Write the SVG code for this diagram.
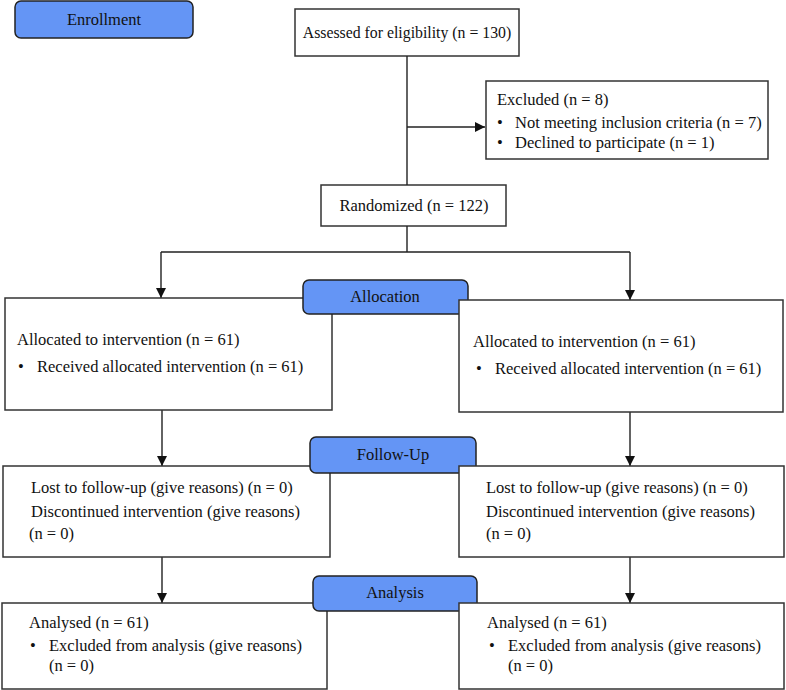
<svg xmlns="http://www.w3.org/2000/svg" width="786" height="690" viewBox="0 0 786 690">
<defs>
<marker id="ah" viewBox="0 0 10 10" refX="10" refY="5" markerWidth="10" markerHeight="10" markerUnits="userSpaceOnUse" orient="auto">
<path d="M0,0 L10,5 L0,10 Z" fill="#111"/>
</marker>
<style>
.box{fill:#fff;stroke:#333;stroke-width:1.5}
.tab{fill:#6495F5;stroke:#222;stroke-width:1.5}
.t{font-family:"Liberation Serif","Times New Roman",serif;font-size:16.5px;fill:#111}
.c{text-anchor:middle}
.ln{fill:none;stroke:#222;stroke-width:1.4}
</style>
</defs>
<rect width="786" height="690" fill="#fff"/>

<g id="enrollment"><rect class="tab" x="15" y="1" width="178" height="37" rx="6"/><text class="t c" x="104" y="25">Enrollment</text></g>

<g id="assessed"><rect class="box" x="295" y="9" width="224" height="47"/><text class="t c" x="407" y="38" style="font-size:15.8px">Assessed for eligibility (n = 130)</text></g>

<g id="excluded"><rect class="box" x="486" y="81" width="282" height="78"/>
<text class="t" x="497" y="105">Excluded (n = 8)</text>
<text class="t" x="497" y="128">•</text><text class="t" x="515" y="128">Not meeting inclusion criteria (n = 7)</text>
<text class="t" x="497" y="148">•</text><text class="t" x="515" y="148">Declined to participate (n = 1)</text></g>

<g id="randomized"><rect class="box" x="321" y="185" width="185" height="41"/><text class="t c" x="414" y="211">Randomized (n = 122)</text></g>

<g id="connectors">
<path class="ln" d="M407,56 V185"/>
<path class="ln" d="M407,127 H485" marker-end="url(#ah)"/>
<path class="ln" d="M407,226 V252 M161,252 H630"/>
<path class="ln" d="M161,252 V298" marker-end="url(#ah)"/>
<path class="ln" d="M630,252 V300" marker-end="url(#ah)"/>
<path class="ln" d="M162,410 V466" marker-end="url(#ah)"/>
<path class="ln" d="M630,412 V466" marker-end="url(#ah)"/>
<path class="ln" d="M162,557 V603" marker-end="url(#ah)"/>
<path class="ln" d="M630,557 V603" marker-end="url(#ah)"/>
</g>

<g id="alloc-left"><rect class="box" x="5" y="298" width="327" height="112"/>
<text class="t" x="17" y="345">Allocated to intervention (n = 61)</text>
<text class="t" x="18" y="372">•</text><text class="t" x="37" y="372">Received allocated intervention (n = 61)</text></g>

<g id="allocation"><rect class="tab" x="303" y="280" width="165" height="34" rx="6"/><text class="t c" x="385" y="302">Allocation</text></g>

<g id="alloc-right"><rect class="box" x="459" y="300" width="324" height="112"/>
<text class="t" x="473" y="347">Allocated to intervention (n = 61)</text>
<text class="t" x="476" y="374">•</text><text class="t" x="495" y="374">Received allocated intervention (n = 61)</text></g>

<g id="follow-left"><rect class="box" x="3" y="466" width="327" height="91"/>
<text class="t" x="31" y="493">Lost to follow-up (give reasons) (n = 0)</text>
<text class="t" x="31" y="517">Discontinued intervention (give reasons)</text>
<text class="t" x="29" y="539">(n = 0)</text></g>

<g id="followup"><rect class="tab" x="310" y="437" width="166" height="36" rx="6"/><text class="t c" x="393" y="460">Follow-Up</text></g>

<g id="follow-right"><rect class="box" x="459" y="466" width="325" height="91"/>
<text class="t" x="486" y="493">Lost to follow-up (give reasons) (n = 0)</text>
<text class="t" x="486" y="517">Discontinued intervention (give reasons)</text>
<text class="t" x="486" y="539">(n = 0)</text></g>

<g id="analysis-left"><rect class="box" x="2" y="603" width="325" height="86"/>
<text class="t" x="29" y="628">Analysed (n = 61)</text>
<text class="t" x="30" y="651">•</text><text class="t" x="49" y="651">Excluded from analysis (give reasons)</text>
<text class="t" x="49" y="671">(n = 0)</text></g>

<g id="analysis"><rect class="tab" x="313" y="576" width="164" height="35" rx="6"/><text class="t c" x="395" y="598">Analysis</text></g>

<g id="analysis-right"><rect class="box" x="459" y="603" width="325" height="86"/>
<text class="t" x="487" y="628">Analysed (n = 61)</text>
<text class="t" x="489" y="651">•</text><text class="t" x="508" y="651">Excluded from analysis (give reasons)</text>
<text class="t" x="508" y="671">(n = 0)</text></g>
</svg>
